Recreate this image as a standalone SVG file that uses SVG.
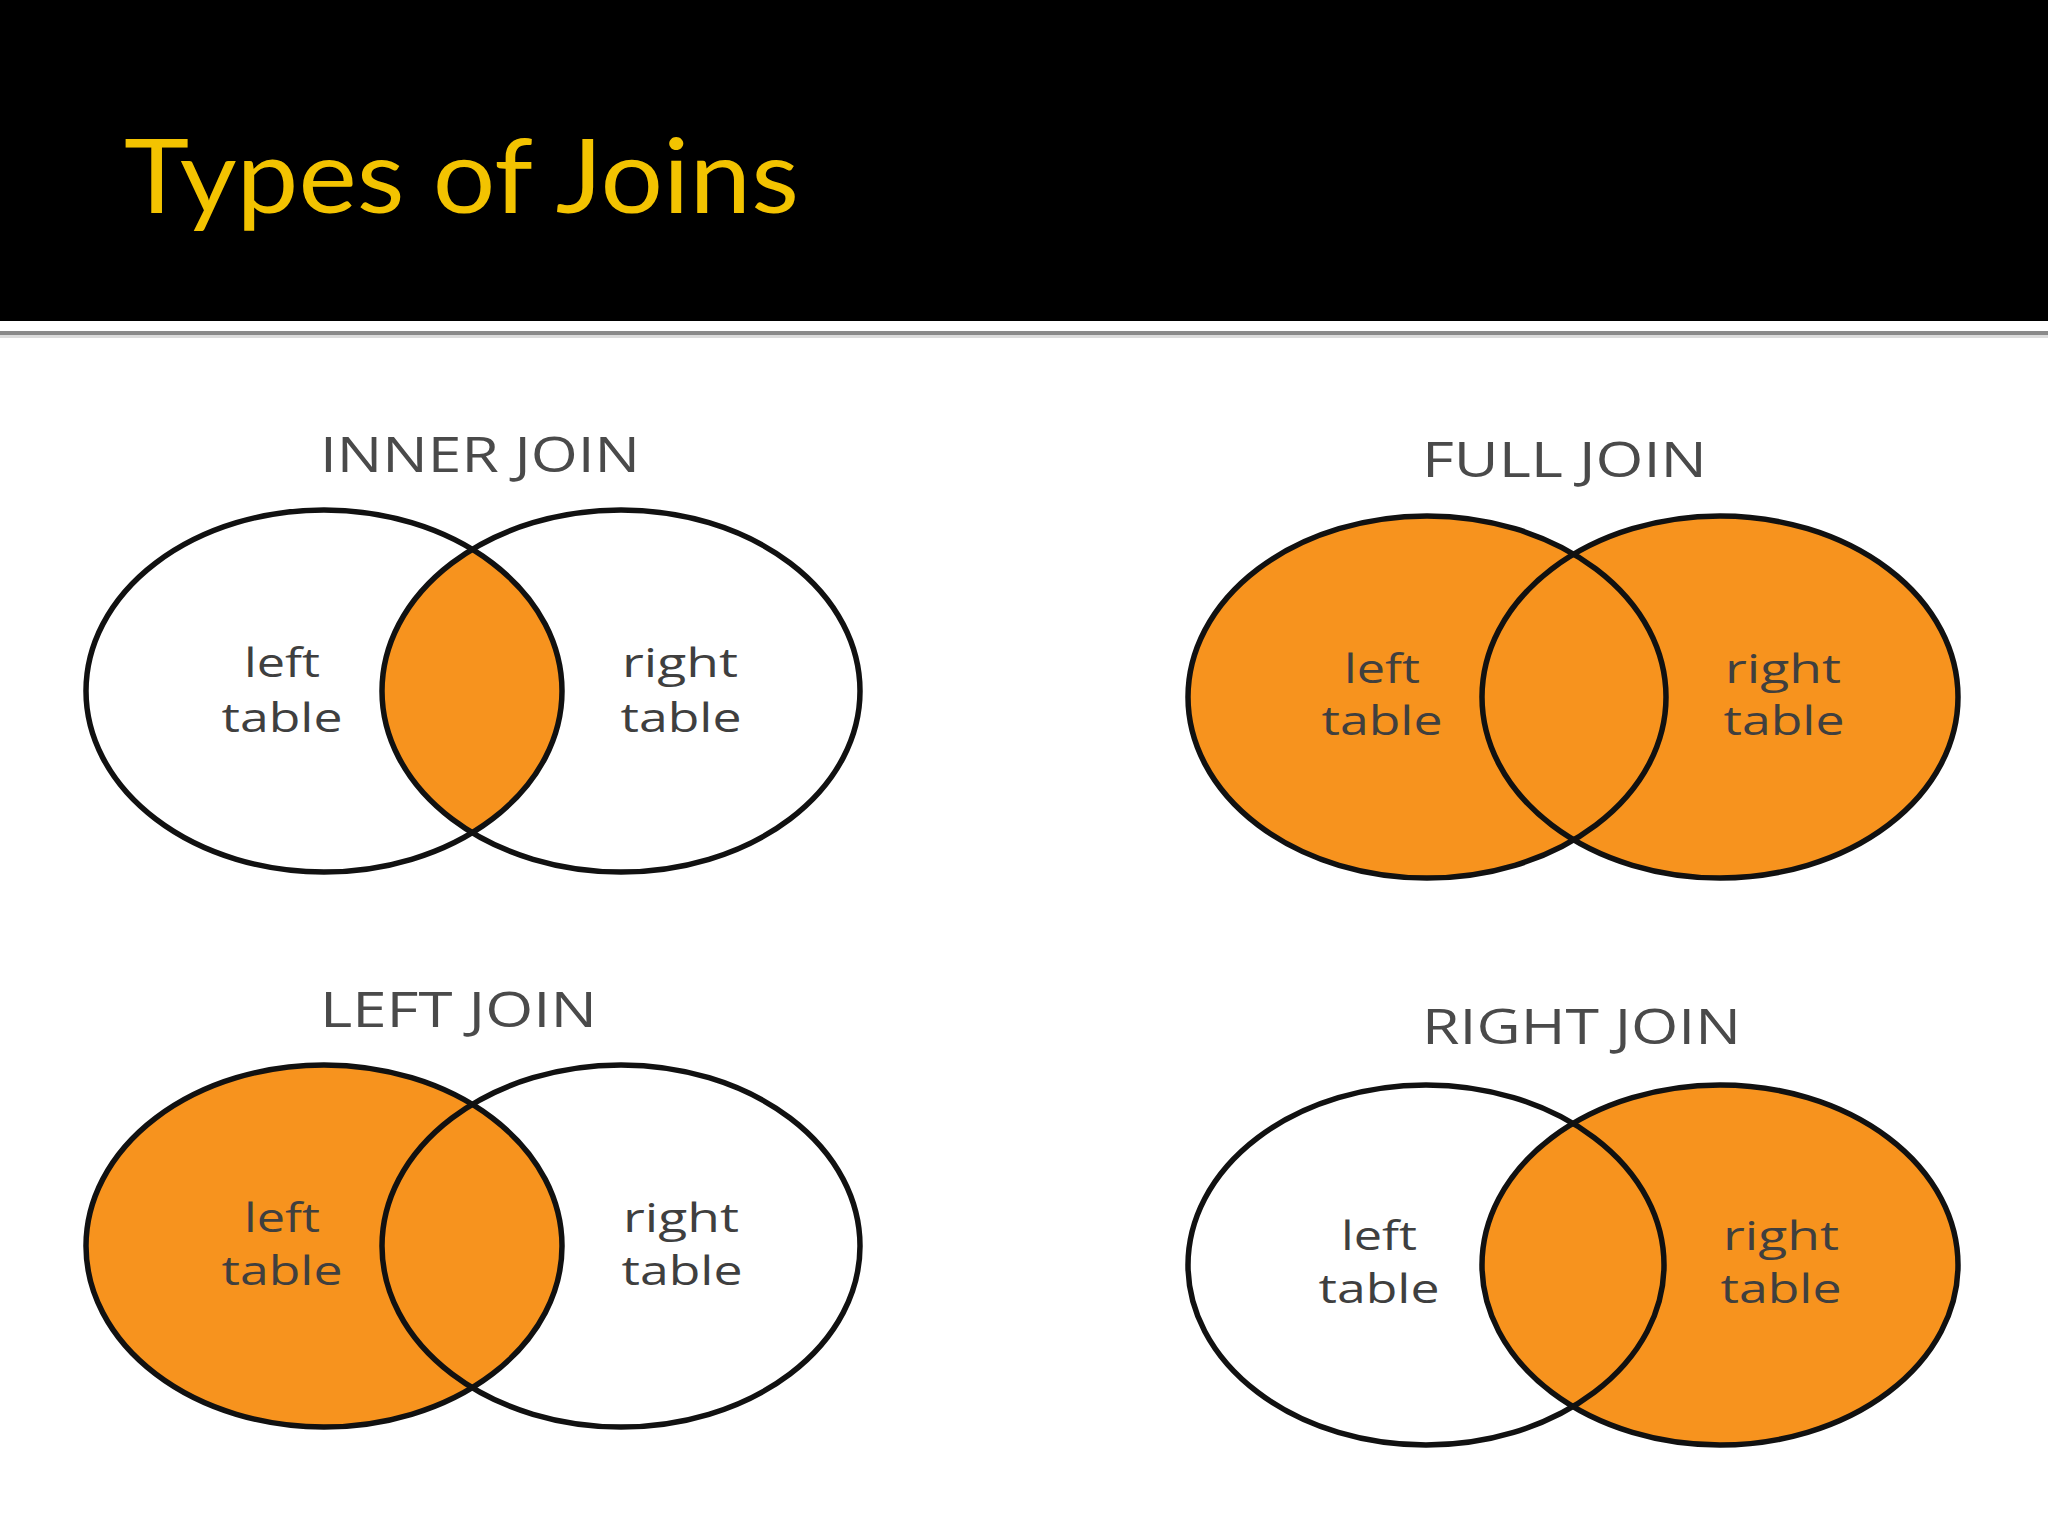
<svg xmlns="http://www.w3.org/2000/svg" width="2048" height="1536" viewBox="0 0 2048 1536">
<defs>
<style>
.title{font-family:Lato,"Open Sans","Liberation Sans",sans-serif;font-size:102px;fill:#F3C300}
.head{font-family:"Open Sans","Liberation Sans",sans-serif;font-size:49px;fill:#4a4a4a}
.lbl{font-family:"Open Sans","Liberation Sans",sans-serif;font-size:40px;fill:#3f3f3f;text-anchor:middle}
.ring{fill:none;stroke:#111;stroke-width:5.5}
.orange{fill:#F7931E;stroke:none}
</style>
<clipPath id="clipInner"><ellipse cx="324" cy="691" rx="238" ry="181"/></clipPath>
</defs>
<rect x="0" y="0" width="2048" height="1536" fill="#ffffff"/>
<rect x="0" y="0" width="2048" height="321" fill="#000000"/>
<rect x="0" y="331" width="2048" height="4" fill="#8a8a8a"/>
<rect x="0" y="335" width="2048" height="3" fill="#dcdcdc"/>
<text class="title" x="124" y="213" textLength="675" lengthAdjust="spacingAndGlyphs">Types of Joins</text>

<g id="inner-join">
<text class="head" x="320" y="472" textLength="320" lengthAdjust="spacingAndGlyphs">INNER JOIN</text>
<ellipse class="orange" cx="621" cy="691" rx="239" ry="181" clip-path="url(#clipInner)"/>
<ellipse class="ring" cx="324" cy="691" rx="238" ry="181"/>
<ellipse class="ring" cx="621" cy="691" rx="239" ry="181"/>
<text class="lbl" x="282" y="677" textLength="76" lengthAdjust="spacingAndGlyphs">left</text>
<text class="lbl" x="282" y="732" textLength="121" lengthAdjust="spacingAndGlyphs">table</text>
<text class="lbl" x="680" y="677" textLength="116" lengthAdjust="spacingAndGlyphs">right</text>
<text class="lbl" x="681" y="732" textLength="121" lengthAdjust="spacingAndGlyphs">table</text>
</g>

<g id="full-join">
<text class="head" x="1422" y="477" textLength="285" lengthAdjust="spacingAndGlyphs">FULL JOIN</text>
<ellipse class="orange" cx="1427" cy="697" rx="239" ry="181"/>
<ellipse class="orange" cx="1720" cy="697" rx="238" ry="181"/>
<ellipse class="ring" cx="1427" cy="697" rx="239" ry="181"/>
<ellipse class="ring" cx="1720" cy="697" rx="238" ry="181"/>
<text class="lbl" x="1382" y="683" textLength="76" lengthAdjust="spacingAndGlyphs">left</text>
<text class="lbl" x="1382" y="735" textLength="121" lengthAdjust="spacingAndGlyphs">table</text>
<text class="lbl" x="1783" y="683" textLength="116" lengthAdjust="spacingAndGlyphs">right</text>
<text class="lbl" x="1784" y="735" textLength="121" lengthAdjust="spacingAndGlyphs">table</text>
</g>

<g id="left-join">
<text class="head" x="320" y="1027" textLength="277" lengthAdjust="spacingAndGlyphs">LEFT JOIN</text>
<ellipse class="orange" cx="324" cy="1246" rx="238" ry="181"/>
<ellipse class="ring" cx="324" cy="1246" rx="238" ry="181"/>
<ellipse class="ring" cx="621" cy="1246" rx="239" ry="181"/>
<text class="lbl" x="282" y="1232" textLength="76" lengthAdjust="spacingAndGlyphs">left</text>
<text class="lbl" x="282" y="1285" textLength="121" lengthAdjust="spacingAndGlyphs">table</text>
<text class="lbl" x="681" y="1232" textLength="116" lengthAdjust="spacingAndGlyphs">right</text>
<text class="lbl" x="682" y="1285" textLength="121" lengthAdjust="spacingAndGlyphs">table</text>
</g>

<g id="right-join">
<text class="head" x="1422" y="1044" textLength="319" lengthAdjust="spacingAndGlyphs">RIGHT JOIN</text>
<ellipse class="orange" cx="1720" cy="1265" rx="238" ry="180"/>
<ellipse class="ring" cx="1426" cy="1265" rx="238" ry="180"/>
<ellipse class="ring" cx="1720" cy="1265" rx="238" ry="180"/>
<text class="lbl" x="1379" y="1250" textLength="76" lengthAdjust="spacingAndGlyphs">left</text>
<text class="lbl" x="1379" y="1303" textLength="121" lengthAdjust="spacingAndGlyphs">table</text>
<text class="lbl" x="1781" y="1250" textLength="116" lengthAdjust="spacingAndGlyphs">right</text>
<text class="lbl" x="1781" y="1303" textLength="121" lengthAdjust="spacingAndGlyphs">table</text>
</g>

<g id="connectors"></g>
</svg>
